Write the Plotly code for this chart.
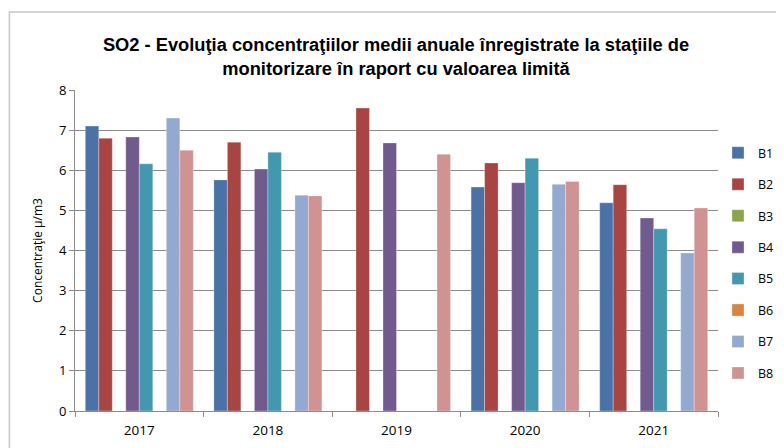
import plotly.graph_objects as go

years = ["2017", "2018", "2019", "2020", "2021"]
series_names = ["B1", "B2", "B3", "B4", "B5", "B6", "B7", "B8"]
B1 = [7.1, 5.76, None, 5.58, 5.19]
B2 = [6.8, 6.7, 7.55, 6.18, 5.64]
B3 = [None, None, None, None, None]
B4 = [6.83, 6.03, 6.68, 5.69, 4.81]
B5 = [6.16, 6.45, None, 6.3, 4.54]
B6 = [None, None, None, None, None]
B7 = [7.3, 5.38, None, 5.65, 3.94]
B8 = [6.5, 5.36, 6.4, 5.72, 5.06]
values = [B1, B2, B3, B4, B5, B6, B7, B8]
colors = ["#4A72A6", "#A84442", "#8BA54E", "#715A8E", "#4298AE", "#DB843D", "#93A9CF", "#D09392"]
y_ticks = [0, 1, 2, 3, 4, 5, 6, 7, 8]

fig = go.Figure()
for name, vals, col in zip(series_names, values, colors):
    fig.add_trace(go.Bar(
        x=years, y=vals, name=name, legendgroup=name,
        marker=dict(color=col, line=dict(width=0.5, color="rgba(255,255,255,0.6)")),
    ))

fig.update_layout(
    width=776, height=440,
    margin=dict(l=67, r=66, t=82, b=37, autoexpand=False),
    paper_bgcolor="white", plot_bgcolor="white",
    barmode="group", bargap=0.16, bargroupgap=0,
    title=dict(
        text="<b>SO2 - Evoluţia concentraţiilor medii anuale înregistrate la staţiile de<br>monitorizare în raport cu valoarea limită</b>",
        x=0.5, xanchor="center", y=0.902, yanchor="middle",
        font=dict(family="Liberation Sans, Arial", size=18.3, color="black"),
    ),
    font=dict(family="Open Sans, Liberation Sans", color="black"),
    legend=dict(
        x=1.0, xanchor="left", y=0.85, yanchor="top",
        font=dict(size=12.5, color="black"),
        tracegroupgap=12.2, itemwidth=30,
        bgcolor="rgba(0,0,0,0)",
    ),
    showlegend=True,
)
fig.update_xaxes(
    automargin=False,
    showline=True, linecolor="#8c8c8c", linewidth=1,
    ticks="outside", tickson="boundaries", ticklen=5, tickcolor="#8c8c8c",
    tickfont=dict(size=13.5, family="Open Sans, Liberation Sans", color="black"),
    ticklabelstandoff=7,
    showgrid=False,
)
fig.update_yaxes(
    automargin=False,
    range=[0, 8], tickvals=y_ticks,
    showline=True, linecolor="#8c8c8c", linewidth=1,
    ticks="outside", ticklen=5, tickcolor="#8c8c8c",
    showgrid=True, gridcolor="#8c8c8c", gridwidth=1,
    tickfont=dict(size=13, color="black"),
    title=dict(text="Concentraţie µ/m3", font=dict(size=12, color="black"), standoff=13),
    zeroline=False,
)
fig.add_shape(type="rect", xref="paper", yref="paper",
              x0=-0.102, y0=-0.3, x1=1.2, y1=1.243,
              line=dict(color="#c8c8c8", width=1.5), fillcolor="rgba(0,0,0,0)", layer="below")
fig.write_html("out.html")
